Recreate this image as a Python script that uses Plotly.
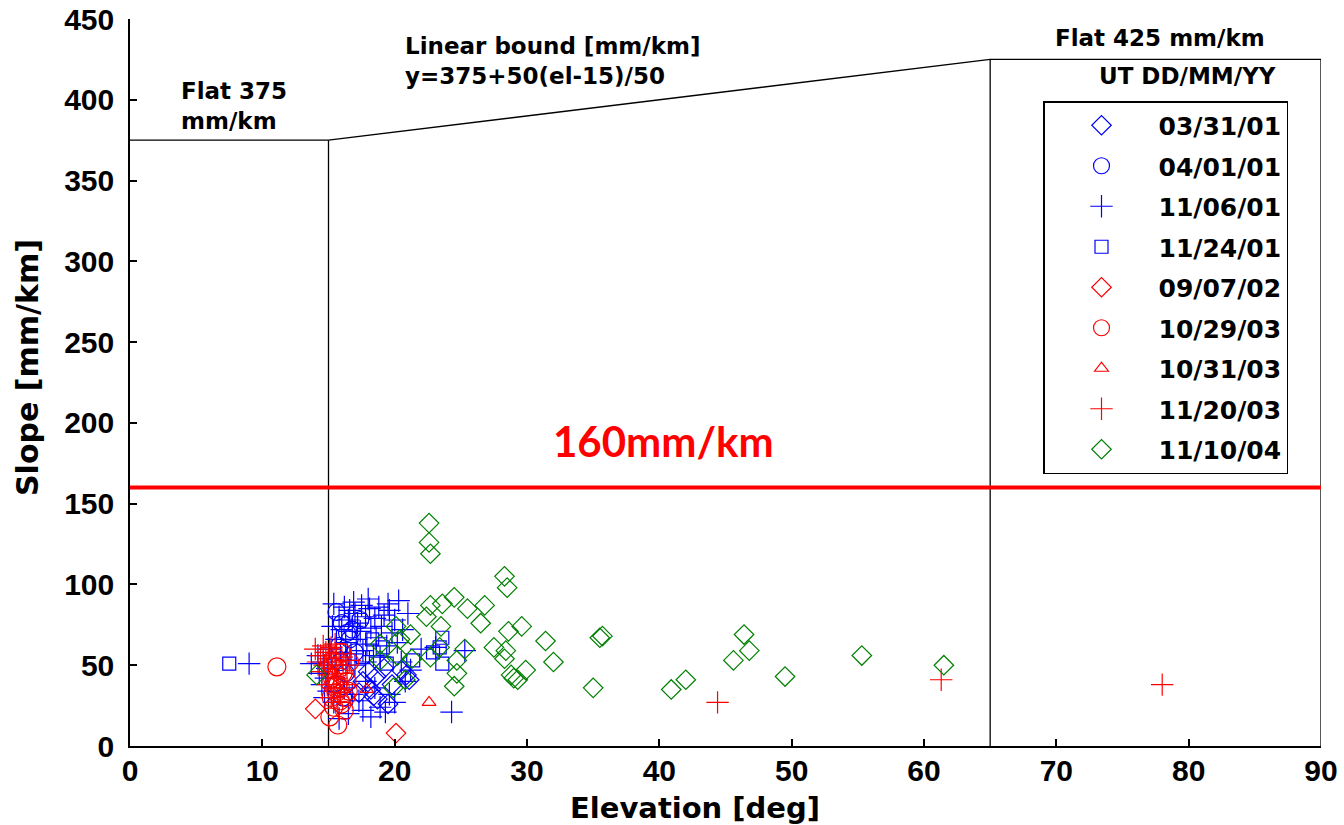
import plotly.graph_objects as go

# ---------------- data ----------------
series_names = ["03/31/01", "04/01/01", "11/06/01", "11/24/01", "09/07/02",
                "10/29/03", "10/31/03", "11/20/03", "11/10/04"]

d033101_x = [17.6, 18.2, 18.6, 18.7, 19.2, 19.8, 20.5, 20.9, 21.1, 18.0, 17.3, 19.5, 18.4]
d033101_y = [40, 35, 43, 29, 48, 38, 47, 44, 41, 46, 33, 26, 31]

d040101_x = [15.6, 16.0, 16.4, 15.8, 16.6, 17.0, 15.9, 16.3, 15.5, 16.8, 17.4, 16.1]
d040101_y = [83, 76, 70, 62, 66, 58, 52, 45, 38, 72, 78, 30]

d110601_x = [15.4, 16.2, 16.9, 17.5, 18.1, 18.8, 19.6, 20.3, 17.0, 17.8, 18.5, 19.2, 20.0,
             15.8, 16.5, 15.3, 16.0, 16.8, 17.4, 18.2, 19.0, 19.8, 20.6, 15.6, 16.3, 17.1,
             17.9, 18.6, 19.4, 15.1, 15.9, 16.7, 17.6, 18.4, 20.2, 21.0, 19.5, 16.6, 18.0,
             17.2, 14.2, 14.6, 13.7, 14.9, 14.3, 15.2, 15.5, 14.8, 16.4, 17.0, 17.8, 18.9,
             14.5, 15.0, 14.7, 15.4, 16.2, 16.8, 17.3, 17.8, 18.5, 18.9, 19.3, 18.2, 17.6,
             16.5, 15.8, 19.6, 20.0, 20.5, 21.2, 22.0, 20.8, 9.0, 24.3, 25.3, 23.1]
d110601_y = [88, 86, 89, 87, 85, 86, 84, 90, 82, 80, 79, 81, 78,
             80, 78, 74, 72, 74, 71, 73, 74, 70, 72, 66, 64, 66,
             63, 67, 62, 60, 58, 57, 59, 56, 64, 82, 88, 84, 91,
             76, 56, 52, 51, 48, 45, 54, 50, 42, 53, 50, 52, 55,
             38, 34, 30, 27, 36, 32, 28, 40, 36, 24, 21, 18, 22,
             20, 17, 32, 27, 52, 47, 60, 40, 51, 21, 59, 61]

d112401_x = [7.5, 17.6, 18.3, 19.1, 19.4, 21.4, 22.9, 23.4, 23.6, 23.6]
d112401_y = [51, 55, 66, 61, 51, 53, 58, 61, 67, 51]

d090702_x = [14.0, 15.2, 20.1]
d090702_y = [23, 37, 8]

d102903_x = [11.1, 15.1, 15.4, 15.7, 16.0, 16.3, 15.6, 15.9, 16.4, 15.3, 16.1, 15.8,
             16.6, 15.5, 16.2, 15.9, 15.7, 16.5, 15.2, 16.0]
d102903_y = [49, 18, 24, 13, 26, 30, 33, 36, 40, 42, 45, 48,
             52, 55, 22, 28, 38, 34, 30, 58]

d103103_x = [17.9, 22.6]
d103103_y = [35, 27]

d112003_x = [14.0, 14.4, 14.8, 15.2, 15.6, 16.0, 14.2, 14.7, 15.3, 15.8, 16.3, 14.5, 15.0,
             15.6, 16.1, 14.9, 15.4, 15.9, 15.2, 15.7, 16.4, 16.6, 15.5, 14.6, 15.0,
             44.4, 61.3, 78.0]
d112003_y = [60, 56, 58, 61, 57, 55, 52, 50, 48, 52, 50, 46, 44,
             42, 45, 38, 36, 33, 30, 27, 38, 53, 63, 62, 54,
             27, 41, 38]

d111004_x = [22.6, 22.6, 22.7, 28.3, 28.5, 22.7, 23.6, 24.5, 25.5, 26.8, 22.4, 26.5, 23.5,
             28.6, 29.6, 21.2, 20.1, 18.9, 20.2, 21.3, 18.9, 22.7, 23.4, 25.3, 27.5, 28.4,
             28.3, 24.7, 24.7, 24.5, 19.9, 28.8, 29.3, 29.9, 31.4, 32.0, 35.5, 35.7, 35.0,
             40.9, 42.0, 45.6, 46.4, 46.8, 49.5, 55.3, 61.5, 14.1, 20.8, 20.4, 29.0]
d111004_y = [138, 126, 119, 105, 98, 87, 88, 92, 85, 87, 80, 76, 74,
             71, 74, 69, 74, 63, 56, 54, 53, 55, 61, 60, 61, 59,
             54, 53, 45, 37, 36, 44, 41, 47, 65, 52, 67, 68, 36,
             35, 41, 53, 69, 59, 43, 56, 50, 44, 41, 66, 42]

bound_elev = [0, 15, 65, 90, 90]
bound_slope = [375, 375, 425, 425, 0]
wall15_elev = [15, 15]
wall15_slope = [0, 375]
wall65_elev = [65, 65]
wall65_slope = [0, 425]
limit_elev = [0, 90]
limit_slope = [160, 160]

x_ticks = [0, 10, 20, 30, 40, 50, 60, 70, 80, 90]
y_ticks = [0, 50, 100, 150, 200, 250, 300, 350, 400, 450]

BLUE = "#0000ff"
RED = "#ff0000"
GREEN = "#008000"

series = [
    (d033101_x, d033101_y, "diamond-open", BLUE, 15),
    (d040101_x, d040101_y, "circle-open", BLUE, 17),
    (d110601_x, d110601_y, "cross-thin-open", BLUE, 16),
    (d112401_x, d112401_y, "square-open", BLUE, 13),
    (d090702_x, d090702_y, "diamond-open", RED, 15),
    (d102903_x, d102903_y, "circle-open", RED, 18),
    (d103103_x, d103103_y, "triangle-up-open", RED, 12),
    (d112003_x, d112003_y, "cross-thin-open", RED, 16),
    (d111004_x, d111004_y, "diamond-open", GREEN, 15),
]

fig = go.Figure()

line_style = dict(color="black", width=1.3)
fig.add_trace(go.Scatter(x=bound_elev, y=bound_slope, mode="lines", line=line_style,
                         showlegend=False, hoverinfo="skip", cliponaxis=False))
fig.add_trace(go.Scatter(x=wall15_elev, y=wall15_slope, mode="lines", line=line_style,
                         showlegend=False, hoverinfo="skip"))
fig.add_trace(go.Scatter(x=wall65_elev, y=wall65_slope, mode="lines", line=line_style,
                         showlegend=False, hoverinfo="skip"))
fig.add_trace(go.Scatter(x=limit_elev, y=limit_slope, mode="lines",
                         line=dict(color=RED, width=4), showlegend=False, hoverinfo="skip",
                         cliponaxis=False))

for i, (name, (xs, ys, sym, col, sz)) in enumerate(zip(series_names, series)):
    fig.add_trace(go.Scatter(
        x=xs, y=ys, mode="markers", name=name, legendgroup=f"g{i}",
        marker=dict(symbol=sym, size=sz, color=col, line=dict(color=col, width=1.2)),
        cliponaxis=False,
    ))

ann_font = dict(family="DejaVu Sans", size=23, color="black", weight="bold")
annotations = [
    dict(text="Flat 375<br>mm/km", x=3.7, y=396, xref="x", yref="y", xanchor="left",
         yanchor="middle", align="left", showarrow=False, font=ann_font),
    dict(text="Linear bound [mm/km]<br>y=375+50(el-15)/50", x=20.6, y=424, xref="x", yref="y",
         xanchor="left", yanchor="middle", align="left", showarrow=False, font=ann_font),
    dict(text="Flat 425 mm/km", x=77.8, y=438, xref="x", yref="y", xanchor="center",
         yanchor="middle", showarrow=False, font=ann_font),
    dict(text="UT DD/MM/YY", x=79.9, y=415, xref="x", yref="y", xanchor="center",
         yanchor="middle", showarrow=False, font=ann_font),
    dict(text="160mm/km", x=40.3, y=189, xref="x", yref="y", xanchor="center",
         yanchor="middle", showarrow=False,
         font=dict(family="Lato", size=42, color=RED, weight="bold")),
    dict(text="Elevation [deg]", x=(695 - 130) / 1191, y=(746 - 808) / 727, xref="paper",
         yref="paper", xanchor="center", yanchor="middle", showarrow=False,
         font=dict(family="DejaVu Sans", size=29, color="black", weight="bold")),
    dict(text="Slope [mm/km]", x=(27 - 130) / 1191, y=(746 - 368) / 727, xref="paper",
         yref="paper", xanchor="center", yanchor="middle", textangle=-90, showarrow=False,
         font=dict(family="DejaVu Sans", size=30, color="black", weight="bold")),
]

tick_font = dict(family="Liberation Sans", size=30, color="black", weight="bold")
fig.update_layout(
    width=1344, height=825,
    margin=dict(l=130, r=23, t=19, b=79, autoexpand=False),
    paper_bgcolor="white", plot_bgcolor="white",
    showlegend=True,
    legend=dict(
        x=(1043 - 130) / 1191, y=(746 - 101) / 727, xanchor="left", yanchor="top",
        bordercolor="black", borderwidth=1.5, bgcolor="white",
        font=dict(family="DejaVu Sans", size=25, color="black", weight="bold"),
        itemwidth=104, tracegroupgap=5, traceorder="grouped",
    ),
    annotations=annotations,
    xaxis=dict(range=[0, 90], tickvals=x_ticks, ticktext=[str(v) for v in x_ticks],
               showgrid=False, zeroline=False, showline=True, linecolor="black", linewidth=1.5,
               ticks="inside", ticklen=7, tickwidth=1.5, tickcolor="black", tickfont=tick_font,
               ticklabelstandoff=-3, automargin=False),
    yaxis=dict(range=[0, 450], tickvals=y_ticks, ticktext=[str(v) for v in y_ticks],
               showgrid=False, zeroline=False, showline=True, linecolor="black", linewidth=1.5,
               ticks="inside", ticklen=7, tickwidth=1.5, tickcolor="black", tickfont=tick_font,
               ticklabelstandoff=8, automargin=False),
)

fig.write_html("out.html")
